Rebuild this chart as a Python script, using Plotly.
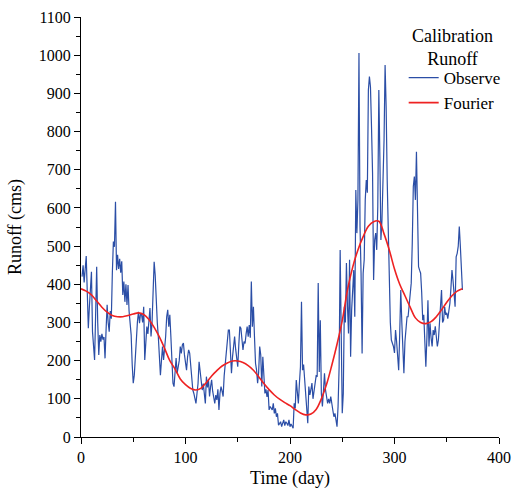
import plotly.graph_objects as go

# Daily observed runoff (cms), days 1..365
observed = [
    420, 450, 405, 440, 474, 380, 285, 340, 400, 433,
    276, 240, 202, 320, 446, 300, 215, 267, 250, 270,
    255, 262, 206, 280, 346, 300, 276, 330, 310, 430,
    512, 498, 616, 437, 477, 440, 467, 430, 460, 372,
    407, 354, 400, 346, 398, 330, 300, 267, 189, 141,
    162, 220, 260, 302, 328, 298, 324, 320, 300, 341,
    202, 254, 289, 270, 300, 338, 263, 300, 380, 459,
    424, 351, 300, 262, 193, 162, 200, 237, 202, 228,
    263, 315, 333, 289, 320, 263, 202, 141, 132, 175,
    207, 167, 184, 200, 237, 219, 241, 246, 215, 190,
    175, 210, 228, 220, 185, 149, 123, 114, 97, 88,
    114, 140, 197, 167, 149, 123, 140, 120, 88, 158,
    130, 149, 106, 132, 150, 120, 97, 88, 110, 97,
    125, 71, 114, 132, 120, 106, 160, 193, 210, 240,
    280, 280, 230, 167, 210, 237, 263, 230, 202, 184,
    240, 289, 285, 263, 228, 250, 245, 270, 289, 263,
    293, 260, 407, 289, 341, 263, 193, 175, 141, 170,
    237, 215, 132, 210, 170, 114, 125, 105, 123, 71,
    80, 75, 71, 88, 62, 75, 53, 62, 31, 35,
    40, 27, 36, 45, 30, 40, 36, 30, 45, 27,
    34, 30, 23, 88, 75, 149, 110, 88, 140, 184,
    354, 175, 190, 150, 114, 53, 36, 132, 110, 125,
    141, 100, 120, 149, 160, 158, 403, 170, 306, 114,
    80, 120, 167, 123, 100, 88, 100, 88, 106, 80,
    70, 53, 62, 45, 27, 80, 184, 490, 202, 62,
    114, 341, 300, 456, 341, 271, 464, 210, 333, 394,
    437, 315, 647, 534, 621, 1006, 551, 429, 219, 429,
    464, 621, 673, 640, 909, 944, 917, 812, 690, 411,
    516, 534, 490, 603, 909, 734, 516, 568, 650, 778,
    974, 865, 673, 520, 429, 300, 254, 246, 237, 220,
    280, 250, 202, 175, 271, 385, 300, 202, 167, 250,
    289, 315, 315, 341, 376, 403, 508, 656, 682, 621,
    747, 560, 446, 437, 429, 380, 306, 320, 219, 184,
    260, 358, 237, 298, 260, 237, 280, 267, 290, 270,
    237, 254, 300, 358, 385, 300, 306, 341, 320, 325,
    310, 330, 350, 390, 437, 410, 380, 341, 472, 481,
    500, 551, 500, 429, 385,
]
obs_days = list(range(1, len(observed) + 1))

# Fourier fit sampled every 5 days
fourier_days = list(range(0, 366, 5))
fourier = [
    388, 382, 372, 356, 340, 327, 318, 315, 315, 318,
    322, 325, 321, 308, 287, 262, 232, 200, 178, 152,
    137, 127, 123, 128, 143, 160, 174, 186, 194, 199,
    199, 195, 187, 175, 158, 140, 124, 110, 99, 90,
    82, 72, 63, 58, 60, 72, 100, 138, 188, 243,
    305, 385, 445, 490, 525, 552, 564, 565, 532, 490,
    440, 400, 370, 340, 312, 300, 297, 302, 315, 333,
    353, 370, 382, 388,
]

x_ticks = [0, 100, 200, 300, 400]
y_ticks = list(range(0, 1101, 100))

font_family = "Liberation Serif"
title_size = 18

fig = go.Figure()
fig.add_trace(go.Scatter(
    x=obs_days, y=observed, mode="lines", name="Observe",
    line=dict(color="#2b4ea6", width=1.2),
))
fig.add_trace(go.Scatter(
    x=fourier_days, y=fourier, mode="lines", name="Fourier",
    line=dict(color="#ee2222", width=1.6, shape="spline", smoothing=1.0),
))

axis_common = dict(
    showgrid=False, zeroline=False, showline=True, linecolor="black",
    linewidth=1, ticks="outside", ticklen=6, tickwidth=1, tickcolor="black",
    tickfont=dict(family=font_family, size=16, color="black"),
    mirror=False, automargin=False,
)

fig.update_xaxes(
    range=[0, 400], tickvals=x_ticks,
    minor=dict(ticks="outside", ticklen=4, tickwidth=1, tickcolor="black", dtick=50, tick0=0),
    title=dict(text="Time (day)", font=dict(family=font_family, size=title_size, color="black"), standoff=6),
    **axis_common,
)
fig.update_yaxes(
    range=[0, 1100], tickvals=y_ticks,
    minor=dict(ticks="outside", ticklen=4, tickwidth=1, tickcolor="black", dtick=50, tick0=0),
    title=dict(text="Runoff (cms)", font=dict(family=font_family, size=title_size, color="black"), standoff=12),
    **axis_common,
)

# Legend heading, centred over the legend entries
fig.add_annotation(
    text="Calibration<br>Runoff", xref="paper", yref="paper",
    x=(455 - 81) / 421, y=(437 - 24) / 420, xanchor="center", yanchor="top",
    showarrow=False, align="center",
    font=dict(family=font_family, size=title_size, color="black"),
)

fig.update_layout(
    width=518, height=491,
    margin=dict(l=81, r=16, t=17, b=54),
    paper_bgcolor="white", plot_bgcolor="white",
    font=dict(family=font_family, size=16, color="black"),
    legend=dict(
        x=(406 - 81) / 421, y=(437 - 60) / 420, xanchor="left", yanchor="top",
        bgcolor="rgba(0,0,0,0)", borderwidth=0,
        font=dict(family=font_family, size=17, color="black"),
        tracegroupgap=0, itemwidth=30,
    ),
)

fig.write_html("out.html")
